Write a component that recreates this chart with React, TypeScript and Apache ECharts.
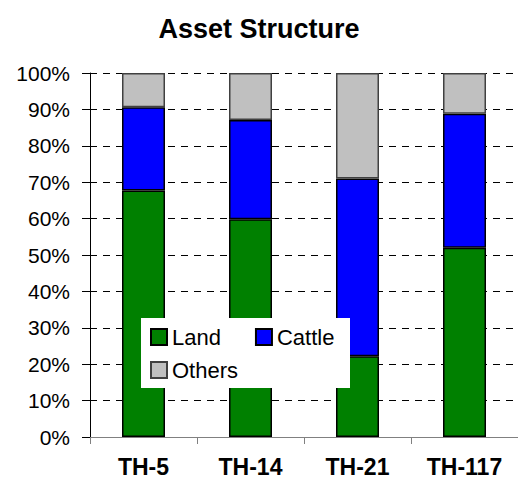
import React, { useEffect, useRef } from "react";
import * as echarts from "echarts";

const categories = ["TH-5", "TH-14", "TH-21", "TH-117"];
const landValues = [67.7, 59.8, 22.2, 52.0];
const cattleValues = [22.9, 27.3, 48.8, 36.8];
const othersValues = [9.4, 12.9, 29.0, 11.2];
const yTicks = [0, 10, 20, 30, 40, 50, 60, 70, 80, 90, 100];

const FONT = "'Liberation Sans', Arial, sans-serif";

export default function App() {
  const ref = useRef<HTMLDivElement>(null);
  useEffect(() => {
    if (!ref.current) return;
    const chart = echarts.init(ref.current, undefined, { renderer: "svg" });
    const option = {
      animation: false,
      backgroundColor: "#ffffff",
      title: {
        text: "Asset Structure",
        left: "center",
        top: 15,
        padding: 0,
        textStyle: { fontFamily: FONT, fontSize: 27, fontWeight: "bold", color: "#000" },
      },
      graphic: [
        {
          type: "rect",
          z: 50,
          shape: { x: 141, y: 318, width: 209, height: 70 },
          style: { fill: "#ffffff" },
        },
      ],
      legend: [
        {
          data: ["Land", "Cattle"],
          left: 150,
          top: 326,
          padding: 0,
          icon: "rect",
          itemWidth: 16,
          itemHeight: 16,
          itemGap: 34,
          z: 60,
          textStyle: { fontFamily: FONT, fontSize: 22, color: "#000" },
        },
        {
          data: ["Others"],
          left: 150,
          top: 359,
          padding: 0,
          icon: "rect",
          itemWidth: 16,
          itemHeight: 16,
          z: 60,
          textStyle: { fontFamily: FONT, fontSize: 22, color: "#000" },
        },
      ],
      grid: { left: 90, top: 73, width: 441, height: 364 },
      xAxis: {
        type: "category",
        data: categories,
        axisLine: { lineStyle: { color: "#808080", width: 1 } },
        axisTick: { show: true, length: 7, alignWithLabel: false, lineStyle: { color: "#808080" } },
        axisLabel: {
          margin: 18,
          fontFamily: FONT,
          fontSize: 23,
          fontWeight: "bold",
          color: "#000",
        },
      },
      yAxis: {
        type: "value",
        min: 0,
        max: 100,
        interval: 10,
        axisLine: { show: true, lineStyle: { color: "#000", width: 1 } },
        axisTick: { show: true, length: 8, lineStyle: { color: "#000" } },
        axisLabel: {
          margin: 20,
          fontFamily: FONT,
          fontSize: 21,
          color: "#000",
          formatter: (v: number) => (yTicks.includes(v) ? v + "%" : ""),
        },
        splitLine: { show: true, lineStyle: { color: "#000", width: 1, type: [7, 6] } },
      },
      series: [
        {
          name: "Land",
          type: "bar",
          stack: "a",
          barWidth: 43,
          data: landValues,
          itemStyle: { color: "#008000", borderColor: "#000", borderWidth: 1.5 },
        },
        {
          name: "Cattle",
          type: "bar",
          stack: "a",
          barWidth: 43,
          data: cattleValues,
          itemStyle: { color: "#0000ff", borderColor: "#000", borderWidth: 1.5 },
        },
        {
          name: "Others",
          type: "bar",
          stack: "a",
          barWidth: 43,
          data: othersValues,
          itemStyle: { color: "#c0c0c0", borderColor: "#404040", borderWidth: 1.5 },
        },
      ],
    };
    chart.setOption(option as any);
    return () => chart.dispose();
  }, []);
  return (
    <div
      ref={ref}
      style={{ position: "fixed", left: 0, top: 0, width: 518, height: 480 }}
    />
  );
}
